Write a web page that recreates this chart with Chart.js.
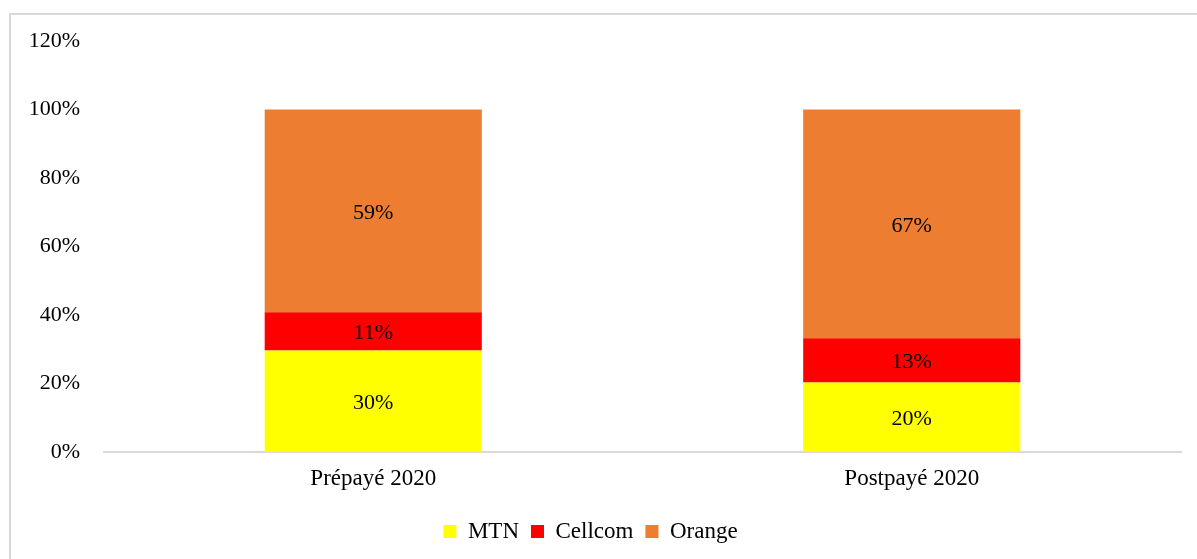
<!DOCTYPE html>
<html>
<head>
<meta charset="utf-8">
<script src="https://cdn.jsdelivr.net/npm/chart.js@4"></script>
<style>
  body { margin: 0; background: #fff; }
  #frame { position: absolute; left: 9px; top: 13px; width: 1200px; height: 560px; border: 2px solid #d9d9d9; border-right: none; border-bottom: none; }
  #wrap { position: absolute; left: 0; top: 0; width: 1197px; height: 559px; }
</style>
</head>
<body>
<div id="frame"></div>
<div id="wrap"><canvas id="chart"></canvas></div>
<script>
const categories = ['Prépayé 2020', 'Postpayé 2020'];
const mtn = [29.6, 20.3];
const cellcom = [11.2, 12.9];
const orange = [59.2, 66.8];
const yTicks = [0, 20, 40, 60, 80, 100, 120];

const font = "'Liberation Serif', 'Times New Roman', serif";

// draws the value in the middle of each segment
const barLabels = {
    id: 'barLabels',
    afterDatasetsDraw(chart) {
        const ctx = chart.ctx;
        ctx.save();
        ctx.font = '22px ' + font;
        ctx.fillStyle = '#000';
        ctx.textAlign = 'center';
        ctx.textBaseline = 'middle';
        chart.data.datasets.forEach((ds, i) => {
            chart.getDatasetMeta(i).data.forEach((bar, j) => {
                const mid = (bar.y + bar.base) / 2;
                ctx.fillText(Math.round(ds.data[j]) + '%', bar.x, mid + 2);
            });
        });
        ctx.restore();
    }
};

new Chart(document.getElementById('chart'), {
    type: 'bar',
    data: {
        labels: categories,
        datasets: [
            { label: 'MTN', data: mtn, backgroundColor: '#ffff00' },
            { label: 'Cellcom', data: cellcom, backgroundColor: '#ff0000' },
            { label: 'Orange', data: orange, backgroundColor: '#ed7d31' }
        ]
    },
    options: {
        responsive: true,
        maintainAspectRatio: false,
        animation: false,
        layout: { padding: { top: 41, right: 16, bottom: 6, left: 0 } },
        datasets: { bar: { categoryPercentage: 0.8, barPercentage: 0.504 } },
        scales: {
            x: {
                stacked: true,
                afterFit(scale) { scale.height = 56; },
                grid: { display: false },
                border: { color: '#d9d9d9', width: 2 },
                ticks: { color: '#000', font: { family: font, size: 23 }, padding: 5 }
            },
            y: {
                stacked: true,
                min: 0,
                max: 120,
                afterFit(scale) { scale.width = 104; },
                afterBuildTicks(scale) { scale.ticks = yTicks.map(v => ({ value: v })); },
                grid: { display: false, drawTicks: false },
                border: { display: false },
                ticks: {
                    color: '#000',
                    padding: 24,
                    font: { family: font, size: 22 },
                    callback: v => v + '%'
                }
            }
        },
        plugins: {
            legend: {
                position: 'bottom',
                labels: {
                    color: '#000',
                    font: { family: font, size: 23 },
                    boxWidth: 13,
                    boxHeight: 13,
                    padding: 12
                }
            },
            tooltip: { enabled: false }
        }
    },
    plugins: [barLabels]
});
</script>
</body>
</html>
